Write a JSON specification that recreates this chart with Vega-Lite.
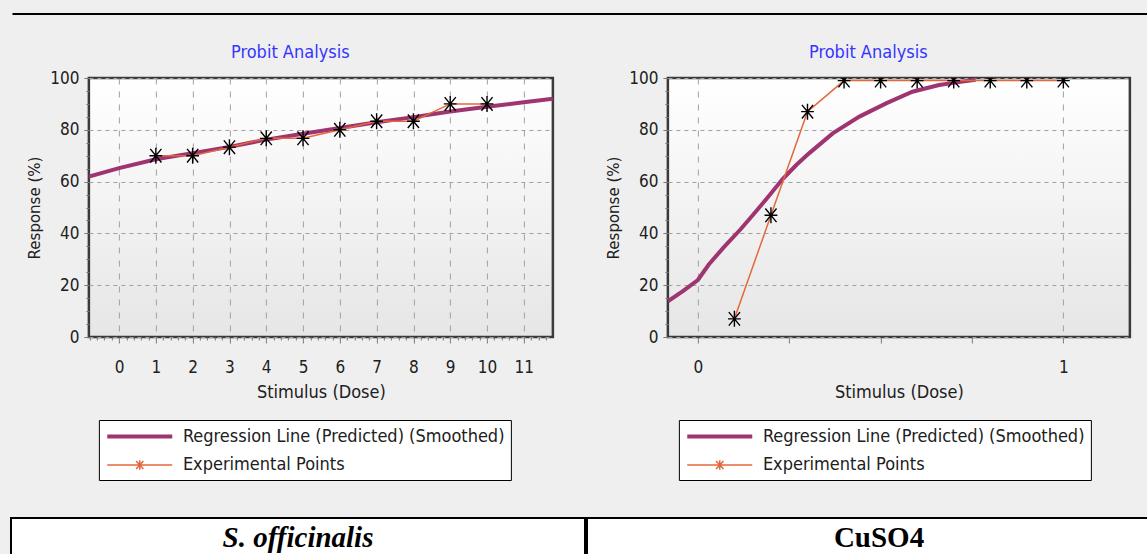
{
  "$schema": "https://vega.github.io/schema/vega-lite/v6.json",
  "background": "#efefef",
  "padding": {"left": 10, "top": 13, "right": 0, "bottom": 0},
  "datasets": {
    "sOffReg": [
      {"dose": -0.82, "response": 61.9}, {"dose": 0, "response": 65.2}, {"dose": 1, "response": 68.6},
      {"dose": 2, "response": 71.0}, {"dose": 3, "response": 73.4}, {"dose": 4, "response": 76.2},
      {"dose": 5, "response": 78.5}, {"dose": 6, "response": 80.7}, {"dose": 7, "response": 82.9},
      {"dose": 8, "response": 84.9}, {"dose": 9, "response": 87.1}, {"dose": 10, "response": 88.9},
      {"dose": 11, "response": 90.6}, {"dose": 11.79, "response": 92.0}
    ],
    "sOffExp": [
      {"dose": 1, "response": 70}, {"dose": 2, "response": 70}, {"dose": 3, "response": 73.3},
      {"dose": 4, "response": 76.7}, {"dose": 5, "response": 76.7}, {"dose": 6, "response": 80},
      {"dose": 7, "response": 83.3}, {"dose": 8, "response": 83.3}, {"dose": 9, "response": 90},
      {"dose": 10, "response": 90}
    ],
    "cuReg": [
      {"dose": -0.082, "response": 13.8}, {"dose": -0.04, "response": 17.8}, {"dose": 0, "response": 22},
      {"dose": 0.03, "response": 28}, {"dose": 0.07, "response": 34.5}, {"dose": 0.117, "response": 41.6},
      {"dose": 0.15, "response": 47}, {"dose": 0.187, "response": 53.2}, {"dose": 0.232, "response": 61},
      {"dose": 0.27, "response": 66.5}, {"dose": 0.305, "response": 71}, {"dose": 0.369, "response": 78.6},
      {"dose": 0.442, "response": 85.1}, {"dose": 0.515, "response": 90.2}, {"dose": 0.587, "response": 94.7},
      {"dose": 0.66, "response": 97.3}, {"dose": 0.724, "response": 98.6}, {"dose": 0.76, "response": 99.3}
    ],
    "cuExp": [
      {"dose": 0.1, "response": 7}, {"dose": 0.2, "response": 47}, {"dose": 0.3, "response": 87},
      {"dose": 0.4, "response": 99}, {"dose": 0.5, "response": 99}, {"dose": 0.6, "response": 99},
      {"dose": 0.7, "response": 99}, {"dose": 0.8, "response": 99}, {"dose": 0.9, "response": 99},
      {"dose": 1.0, "response": 99}
    ],
    "blank": [{"caption": ""}]
  },
  "config": {
    "view": {
      "stroke": "#3a3a3a",
      "strokeWidth": 2.5,
      "fill": {"gradient": "linear", "x1": 0, "y1": 0, "x2": 0, "y2": 1,
        "stops": [{"offset": 0, "color": "#ffffff"}, {"offset": 1, "color": "#e6e6e6"}]}
    },
    "axis": {
      "labelFont": "DejaVu Sans Condensed",
      "labelFontSize": 17,
      "labelColor": "#202020",
      "titleFont": "DejaVu Sans Condensed",
      "titleFontSize": 18,
      "titleFontWeight": "normal",
      "titleColor": "#202020",
      "domain": false,
      "tickColor": "#7a7a7a",
      "gridColor": "#a0a0a0",
      "gridWidth": 1
    },
    "legend": {
      "labelFont": "DejaVu Sans Condensed",
      "labelFontSize": 18,
      "labelColor": "#202020",
      "labelLimit": 500,
      "padding": 6,
      "rowPadding": 10,
      "labelOffset": 57,
      "symbolSize": 264,
      "strokeColor": "#000000",
      "fillColor": "#ffffff"
    },
    "title": {
      "font": "DejaVu Sans Condensed",
      "fontSize": 18,
      "fontWeight": "normal",
      "color": "#3535ff",
      "frame": "bounds",
      "offset": 7
    }
  },
  "resolve": {
    "scale": {"color": "independent", "strokeWidth": "independent"},
    "legend": {"color": "independent", "strokeWidth": "independent"}
  },
  "vconcat": [
    {
      "spacing": 27,
      "center": true,
      "resolve": {
        "scale": {"color": "independent", "strokeWidth": "independent"},
        "legend": {"color": "independent", "strokeWidth": "independent"}
      },
      "vconcat": [
        {
          "width": 1195,
          "height": 2,
          "view": {"fill": "#000000", "stroke": null},
          "data": {"name": "blank"},
          "mark": {"type": "text", "fontSize": 1, "baseline": "middle"},
          "encoding": {"text": {"field": "caption", "type": "nominal"}}
        },
        {
          "spacing": 50,
          "resolve": {
            "scale": {"color": "independent", "strokeWidth": "independent"},
            "legend": {"color": "independent", "strokeWidth": "independent"}
          },
          "hconcat": [
            {
              "title": "Probit Analysis",
              "width": 464,
              "height": 259,
              "resolve": {"axis": {"x": "independent", "y": "independent"}},
              "layer": [
                {
                  "data": {"name": "sOffReg"},
                  "mark": {"type": "line", "clip": true},
                  "encoding": {
                    "x": {"field": "dose", "type": "quantitative",
                      "scale": {"domain": [-0.82, 11.79], "nice": false, "zero": false},
                      "axis": {"values": [0, 1, 2, 3, 4, 5, 6, 7, 8, 9, 10, 11], "title": "Stimulus (Dose)", "tickSize": 6, "labelPadding": 16, "titlePadding": 8, "grid": true, "gridDash": [6, 7]}},
                    "y": {"field": "response", "type": "quantitative",
                      "scale": {"domain": [0, 100], "nice": false},
                      "axis": {"values": [0, 20, 40, 60, 80, 100], "title": "Response (%)", "titleFont": "DejaVu Sans", "titleFontSize": 15, "tickSize": 5, "labelPadding": 5, "titlePadding": 7, "grid": true, "gridDash": [4, 4]}},
                    "color": {"datum": "Regression Line (Predicted) (Smoothed)", "type": "nominal",
                      "scale": {"domain": ["Regression Line (Predicted) (Smoothed)", "Experimental Points"], "range": ["#9e3470", "#e2683c"]},
                      "legend": {"orient": "none", "legendX": 10, "legendY": 342, "title": null, "direction": "vertical",
                        "symbolType": {"expr": "datum.value == 'Experimental Points' ? 'M-1,0H7M3,-0.6V0.6M2.55,-0.5L3.45,0.5M2.55,0.5L3.45,-0.5' : 'M-1,0H7'"}}},
                    "strokeWidth": {"datum": "Regression Line (Predicted) (Smoothed)", "type": "ordinal",
                      "scale": {"domain": ["Regression Line (Predicted) (Smoothed)", "Experimental Points"], "range": [4, 1.5]}}
                  }
                },
                {
                  "data": {"name": "sOffExp"},
                  "mark": {"type": "line", "clip": true},
                  "encoding": {
                    "x": {"field": "dose", "type": "quantitative",
                      "scale": {"domain": [-0.82, 11.79], "nice": false, "zero": false},
                      "axis": {"orient": "bottom", "values": [-0.8, -0.6, -0.4, -0.2, 0.2, 0.4, 0.6, 0.8, 1.2, 1.4, 1.6, 1.8, 2.2, 2.4, 2.6, 2.8, 3.2, 3.4, 3.6, 3.8, 4.2, 4.4, 4.6, 4.8, 5.2, 5.4, 5.6, 5.8, 6.2, 6.4, 6.6, 6.8, 7.2, 7.4, 7.6, 7.8, 8.2, 8.4, 8.6, 8.8, 9.2, 9.4, 9.6, 9.8, 10.2, 10.4, 10.6, 10.8, 11.2, 11.4, 11.6], "labels": false, "title": null, "grid": false, "tickSize": 3}},
                    "y": {"field": "response", "type": "quantitative",
                      "scale": {"domain": [0, 100], "nice": false},
                      "axis": {"orient": "left", "values": [5, 10, 15, 25, 30, 35, 45, 50, 55, 65, 70, 75, 85, 90, 95], "labels": false, "title": null, "grid": false, "tickSize": 3}},
                    "color": {"datum": "Experimental Points", "type": "nominal"},
                    "strokeWidth": {"datum": "Experimental Points", "type": "ordinal"}
                  }
                },
                {
                  "data": {"name": "sOffExp"},
                  "mark": {"type": "point", "shape": "M0,-1V1M-0.7,-0.85L0.7,0.85M-0.7,0.85L0.7,-0.85M-0.8,0H0.8", "size": 256, "filled": false, "stroke": "#000000", "strokeWidth": 1.4, "opacity": 1, "clip": true},
                  "encoding": {
                    "x": {"field": "dose", "type": "quantitative", "scale": {"domain": [-0.82, 11.79], "nice": false, "zero": false}, "axis": null},
                    "y": {"field": "response", "type": "quantitative", "scale": {"domain": [0, 100], "nice": false}, "axis": null}
                  }
                }
              ]
            },
            {
              "title": "Probit Analysis",
              "width": 462,
              "height": 259,
              "resolve": {"axis": {"x": "independent", "y": "independent"}},
              "layer": [
                {
                  "data": {"name": "cuReg"},
                  "mark": {"type": "line", "clip": true},
                  "encoding": {
                    "x": {"field": "dose", "type": "quantitative",
                      "scale": {"domain": [-0.082, 1.182], "nice": false, "zero": false},
                      "axis": {"values": [0, 0.25, 0.5, 0.75, 1], "labelExpr": "datum.value == 0 ? '0' : datum.value == 1 ? '1' : ''", "title": "Stimulus (Dose)", "tickSize": 6, "labelPadding": 16, "titlePadding": 8, "grid": true, "gridDash": [6, 7],
                        "gridOpacity": {"condition": {"test": "datum.value == 0 || datum.value == 1", "value": 1}, "value": 0}}},
                    "y": {"field": "response", "type": "quantitative",
                      "scale": {"domain": [0, 100], "nice": false},
                      "axis": {"values": [0, 20, 40, 60, 80, 100], "title": "Response (%)", "titleFont": "DejaVu Sans", "titleFontSize": 15, "tickSize": 5, "labelPadding": 5, "titlePadding": 7, "grid": true, "gridDash": [4, 4]}},
                    "color": {"datum": "Regression Line (Predicted) (Smoothed)", "type": "nominal",
                      "scale": {"domain": ["Regression Line (Predicted) (Smoothed)", "Experimental Points"], "range": ["#9e3470", "#e2683c"]},
                      "legend": {"orient": "none", "legendX": 11, "legendY": 342, "title": null, "direction": "vertical",
                        "symbolType": {"expr": "datum.value == 'Experimental Points' ? 'M-1,0H7M3,-0.6V0.6M2.55,-0.5L3.45,0.5M2.55,0.5L3.45,-0.5' : 'M-1,0H7'"}}},
                    "strokeWidth": {"datum": "Regression Line (Predicted) (Smoothed)", "type": "ordinal",
                      "scale": {"domain": ["Regression Line (Predicted) (Smoothed)", "Experimental Points"], "range": [4, 1.5]}}
                  }
                },
                {
                  "data": {"name": "cuExp"},
                  "mark": {"type": "line", "clip": true},
                  "encoding": {
                    "x": {"field": "dose", "type": "quantitative",
                      "scale": {"domain": [-0.082, 1.182], "nice": false, "zero": false}, "axis": null},
                    "y": {"field": "response", "type": "quantitative",
                      "scale": {"domain": [0, 100], "nice": false},
                      "axis": {"orient": "left", "values": [5, 10, 15, 25, 30, 35, 45, 50, 55, 65, 70, 75, 85, 90, 95], "labels": false, "title": null, "grid": false, "tickSize": 3}},
                    "color": {"datum": "Experimental Points", "type": "nominal"},
                    "strokeWidth": {"datum": "Experimental Points", "type": "ordinal"}
                  }
                },
                {
                  "data": {"name": "cuExp"},
                  "mark": {"type": "point", "shape": "M0,-1V1M-0.7,-0.85L0.7,0.85M-0.7,0.85L0.7,-0.85M-0.8,0H0.8", "size": 256, "filled": false, "stroke": "#000000", "strokeWidth": 1.4, "opacity": 1, "clip": true},
                  "encoding": {
                    "x": {"field": "dose", "type": "quantitative", "scale": {"domain": [-0.082, 1.182], "nice": false, "zero": false}, "axis": null},
                    "y": {"field": "response", "type": "quantitative", "scale": {"domain": [0, 100], "nice": false}, "axis": null}
                  }
                }
              ]
            }
          ]
        }
      ]
    },
    {
      "spacing": 0,
      "hconcat": [
        {
          "width": 574,
          "height": 40,
          "view": {"fill": "#ffffff", "stroke": "#000000", "strokeWidth": 2},
          "data": {"values": [{"caption": "S. officinalis"}]},
          "mark": {"type": "text", "font": "Liberation Serif", "fontSize": 29, "fontStyle": "italic", "fontWeight": "bold", "color": "#000000", "baseline": "middle"},
          "encoding": {"text": {"field": "caption", "type": "nominal"}}
        },
        {
          "width": 584,
          "height": 40,
          "view": {"fill": "#ffffff", "stroke": "#000000", "strokeWidth": 2},
          "data": {"values": [{"caption": "CuSO4"}]},
          "mark": {"type": "text", "font": "Liberation Serif", "fontSize": 29, "fontWeight": "bold", "color": "#000000", "baseline": "middle"},
          "encoding": {"text": {"field": "caption", "type": "nominal"}}
        },
        {
          "width": 35,
          "height": 40,
          "view": {"fill": "#ffffff", "stroke": "#000000", "strokeWidth": 2},
          "data": {"name": "blank"},
          "mark": {"type": "text", "fontSize": 1, "baseline": "middle"},
          "encoding": {"text": {"field": "caption", "type": "nominal"}}
        }
      ]
    }
  ],
  "spacing": 35,
  "center": true
}
